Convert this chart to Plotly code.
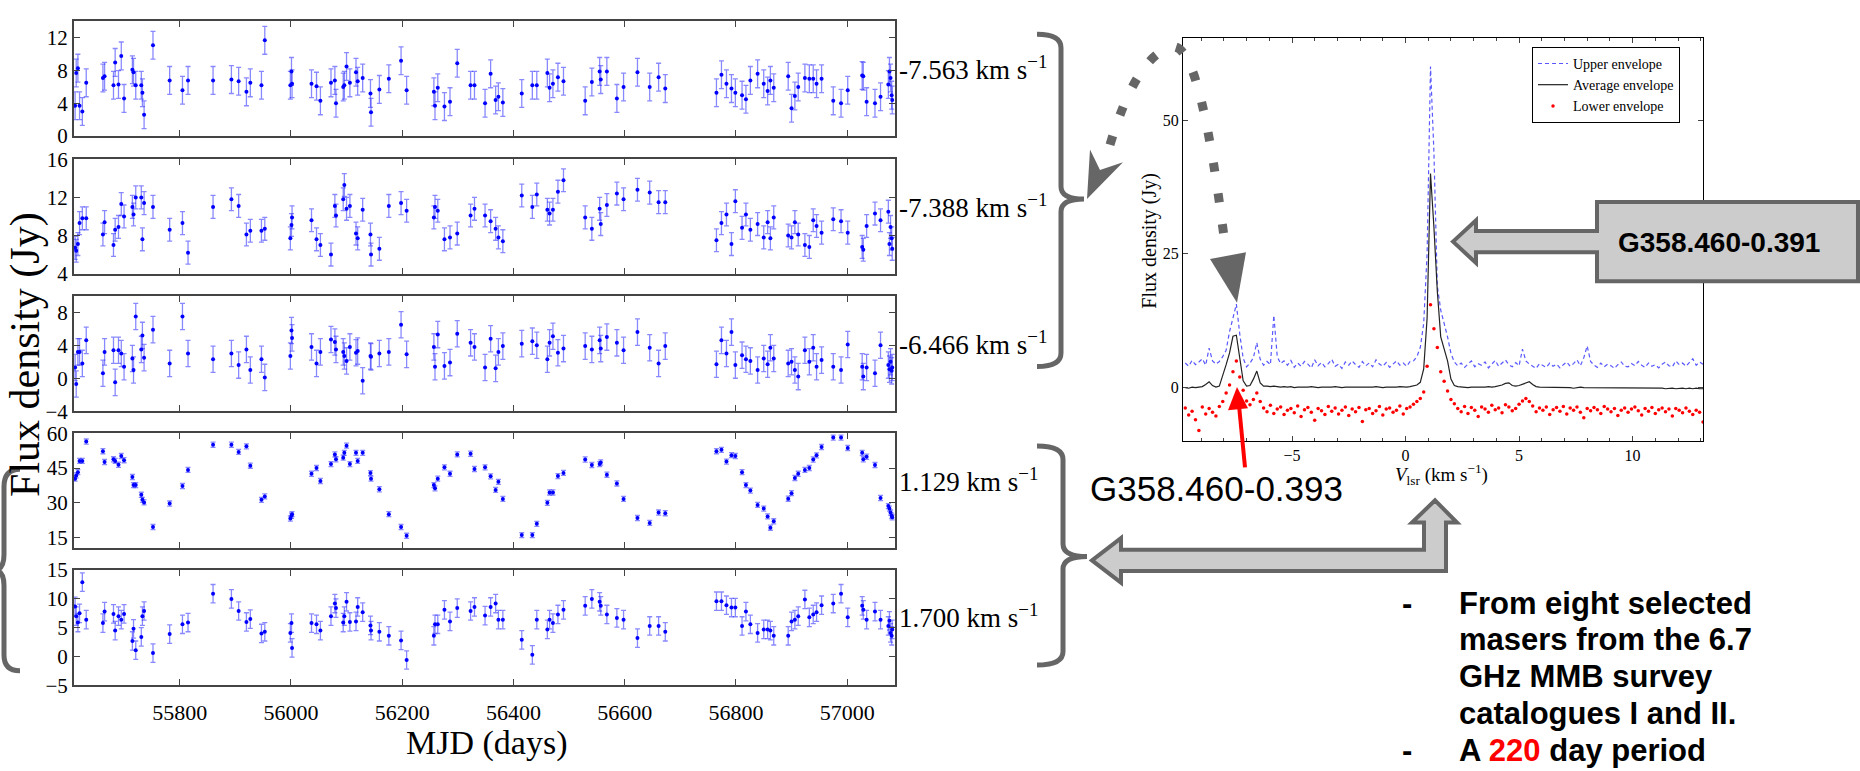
import plotly.graph_objects as go

W, H = 1860, 771

# ---------------- light curves (MJD epochs shared by all five velocity channels) ----------------
mjd = [
    55612, 55614, 55617, 55620, 55625, 55632, 55662, 55665, 55681, 55684,
    55690, 55695, 55700, 55715, 55717, 55721, 55731, 55733, 55736, 55752,
    55782, 55805, 55815, 55860, 55893, 55906, 55920, 55927, 55947, 55953,
    55999, 56001, 56002, 56037, 56046, 56053, 56072, 56079, 56081, 56094,
    56096, 56100, 56106, 56117, 56120, 56129, 56143, 56144, 56159, 56176,
    56198, 56208, 56257, 56259, 56264, 56276, 56286, 56299, 56323, 56330,
    56349, 56359, 56368, 56373, 56381, 56415, 56434, 56442, 56461, 56465,
    56471, 56480, 56490, 56529, 56541, 56555, 56557, 56568, 56586, 56598,
    56623, 56645, 56661, 56673, 56765, 56774, 56783, 56792, 56799, 56811,
    56818, 56826, 56839, 56850, 56857, 56862, 56868, 56894, 56900, 56906,
    56912, 56924, 56932, 56939, 56945, 56954, 56975, 56989, 57001, 57027,
    57029, 57035, 57050, 57060, 57074, 57076, 57078, 57080, 57081,
]

flux_m7563 = [
    3.7, 7.7, 8.3, 3.7, 3.0, 6.5, 7.1, 7.3, 6.2, 9.0,
    6.3, 9.8, 4.6, 8.1, 7.8, 6.2, 6.2, 5.3, 2.6, 11.1,
    6.8, 5.6, 6.8, 6.8, 6.9, 6.7, 5.4, 6.5, 6.2, 11.7,
    6.2, 7.9, 6.4, 6.4, 6.1, 4.3, 6.5, 6.8, 4.0, 6.0,
    6.2, 8.5, 6.5, 7.8, 6.7, 7.1, 5.2, 2.9, 5.7, 7.0,
    9.2, 5.6, 5.4, 3.7, 5.9, 3.6, 4.2, 8.9, 6.2, 6.2,
    4.0, 7.6, 4.4, 4.8, 4.1, 5.2, 6.2, 6.2, 7.7, 5.9,
    6.4, 7.2, 6.7, 4.3, 6.6, 7.9, 6.9, 7.9, 4.6, 6.0,
    7.8, 6.0, 7.2, 5.8, 5.3, 7.5, 6.4, 5.8, 5.3, 5.0,
    4.5, 6.8, 7.6, 6.4, 5.5, 6.8, 5.9, 7.3, 3.4, 4.9,
    6.0, 7.1, 7.0, 7.0, 6.4, 7.0, 4.3, 4.0, 5.6, 7.4,
    7.3, 4.2, 4.0, 4.8, 6.3, 7.9, 7.1, 5.0, 4.4,
]

flux_m7388 = [
    6.7, 6.4, 7.1, 9.3, 9.8, 9.8, 8.1, 9.4, 7.0, 8.6,
    8.9, 11.3, 10.0, 11.0, 10.2, 12.0, 12.0, 7.6, 11.4, 11.0,
    8.6, 9.3, 6.2, 11.0, 11.8, 11.1, 8.1, 8.5, 8.5, 8.7,
    7.7, 9.1, 9.9, 9.6, 7.6, 7.0, 6.0, 11.1, 10.1, 11.8,
    13.3, 10.8, 11.1, 8.2, 7.7, 10.7, 8.1, 6.0, 6.6, 11.1,
    11.4, 10.6, 9.9, 11.0, 10.6, 7.6, 7.8, 8.2, 10.1, 10.8,
    10.1, 9.5, 8.7, 7.8, 7.4, 12.2, 11.0, 12.3, 10.7, 10.3,
    10.7, 12.6, 13.8, 9.9, 8.7, 10.8, 9.2, 11.2, 12.4, 11.8,
    12.8, 12.5, 11.5, 11.5, 7.5, 9.3, 10.2, 7.1, 11.6, 8.8,
    10.2, 8.6, 9.2, 7.8, 9.4, 7.7, 9.9, 8.0, 7.8, 9.4,
    8.1, 7.0, 6.8, 9.6, 9.0, 8.3, 9.7, 9.5, 8.3, 6.8,
    6.5, 9.0, 10.3, 9.6, 10.5, 7.1, 8.9, 7.7, 6.6,
]

flux_m6466 = [
    1.3, -0.7, 3.2, 3.2, 1.8, 4.6, 0.6, 3.2, 3.4, -0.5,
    3.4, 3.0, 1.4, 2.4, 1.0, 7.5, 3.5, 5.2, 2.5, 5.9,
    1.8, 7.5, 3.0, 2.3, 3.0, 1.6, 3.5, 1.0, 2.3, 0.1,
    2.7, 5.8, 4.9, 3.8, 1.8, 3.2, 4.7, 4.4, 3.5, 3.2,
    2.7, 2.1, 3.8, 3.1, 3.3, -0.3, 2.7, 2.6, 3.0, 3.2,
    6.5, 2.9, 3.8, 1.4, 5.3, 1.5, 1.9, 5.4, 4.3, 3.8,
    1.3, 4.8, 1.2, 3.2, 3.9, 4.2, 4.5, 4.0, 2.3, 4.3,
    5.1, 3.1, 3.6, 3.9, 3.5, 4.6, 3.6, 5.0, 4.3, 3.4,
    5.6, 3.7, 1.8, 3.9, 1.7, 4.6, 3.0, 5.6, 1.6, 2.8,
    2.3, 2.1, 1.0, 2.4, 1.7, 3.7, 2.4, 1.8, 2.0, 1.0,
    0.2, 3.4, 2.0, 3.7, 1.4, 2.2, 1.4, 1.0, 4.1, 1.4,
    0.2, 1.3, 0.6, 4.0, 1.6, 1.1, 2.0, 0.9, 1.3,
]

flux_p1129 = [
    40.4, 41.8, 43.2, 48.1, 48.1, 56.5, 52.3, 47.6, 48.8, 48.1,
    46.4, 50.2, 48.4, 41.1, 37.6, 37.6, 33.4, 31.2, 30.1, 19.4,
    29.6, 37.2, 44.2, 55.1, 55.1, 52.0, 54.4, 46.0, 31.2, 32.7,
    23.1, 24.3, 25.0, 42.5, 45.0, 39.4, 46.7, 50.9, 48.8, 49.5,
    51.6, 54.7, 46.7, 51.6, 48.1, 51.6, 42.8, 40.4, 35.8, 25.0,
    19.4, 15.6, 37.6, 36.2, 40.4, 45.3, 42.5, 50.9, 51.2, 44.6,
    45.3, 41.4, 35.5, 39.0, 31.6, 15.9, 15.9, 20.8, 29.9, 34.4,
    34.4, 41.5, 42.9, 48.7, 46.3, 46.7, 47.4, 42.1, 38.3, 31.6,
    23.3, 21.2, 25.7, 25.4, 52.3, 52.9, 47.8, 50.6, 50.2, 43.2,
    37.6, 35.2, 29.0, 27.4, 24.0, 19.1, 21.9, 31.7, 34.1, 40.7,
    42.5, 44.2, 45.0, 48.7, 50.5, 54.1, 58.2, 58.2, 53.7, 51.6,
    48.8, 49.9, 46.3, 32.0, 28.5, 27.4, 25.7, 24.3, 23.6,
]

flux_p1700 = [
    8.7, 7.0, 5.9, 7.5, 12.9, 6.4, 5.8, 7.8, 7.4, 4.5,
    7.0, 6.4, 7.4, 2.7, 4.8, 1.1, 3.4, 7.0, 7.9, 0.6,
    3.9, 5.6, 5.9, 10.9, 10.0, 7.9, 6.0, 6.5, 4.0, 4.3,
    4.1, 5.8, 1.5, 5.8, 5.6, 4.5, 7.0, 9.2, 8.4, 5.9,
    7.0, 9.5, 6.0, 6.1, 8.6, 7.7, 5.4, 4.5, 4.3, 3.6,
    2.8, -0.6, 3.6, 5.6, 5.6, 8.1, 6.1, 8.4, 7.9, 8.6,
    7.1, 8.6, 9.2, 6.4, 6.4, 2.9, 0.3, 6.4, 4.7, 6.4,
    5.8, 7.3, 8.1, 8.8, 10.0, 9.5, 8.8, 7.3, 6.7, 6.4,
    3.2, 5.3, 5.3, 4.3, 9.6, 9.6, 8.9, 8.5, 8.5, 5.3,
    7.8, 5.6, 4.1, 4.7, 4.7, 4.5, 3.6, 3.6, 6.1, 6.4,
    7.0, 9.9, 6.8, 7.3, 7.7, 8.9, 9.2, 10.9, 6.8, 8.8,
    8.1, 6.4, 7.8, 6.4, 5.3, 6.2, 4.1, 3.6, 4.7,
]

flux_errors = [1.7, 1.2, 1.6, 1.1, 1.6]
channel_labels = ["-7.563", "-7.388", "-6.466", "1.129", "1.700"]
mjd_ticks = [55800, 56000, 56200, 56400, 56600, 56800, 57000]
panel_yticks = [[0, 4, 8, 12], [4, 8, 12, 16], [-4, 0, 4, 8], [15, 30, 45, 60], [-5, 0, 5, 10, 15]]
panel_yranges = [[0, 14.1], [4, 16], [-4, 10], [10.4, 60], [-5, 15]]

# ---------------- spectrum of G358.460-0.391 ----------------
velocity = [
    -9.70, -9.55, -9.40, -9.25, -9.10, -8.95, -8.80, -8.65, -8.50, -8.35,
    -8.20, -8.05, -7.90, -7.75, -7.60, -7.45, -7.30, -7.15, -7.00, -6.85,
    -6.70, -6.55, -6.40, -6.25, -6.10, -5.95, -5.80, -5.65, -5.50, -5.35,
    -5.20, -5.05, -4.90, -4.75, -4.60, -4.45, -4.30, -4.15, -4.00, -3.85,
    -3.70, -3.55, -3.40, -3.25, -3.10, -2.95, -2.80, -2.65, -2.50, -2.35,
    -2.20, -2.05, -1.90, -1.75, -1.60, -1.45, -1.30, -1.15, -1.00, -0.85,
    -0.70, -0.55, -0.40, -0.25, -0.10, 0.05, 0.20, 0.35, 0.50, 0.65,
    0.80, 0.95, 1.10, 1.25, 1.40, 1.55, 1.70, 1.85, 2.00, 2.15,
    2.30, 2.45, 2.60, 2.75, 2.90, 3.05, 3.20, 3.35, 3.50, 3.65,
    3.80, 3.95, 4.10, 4.25, 4.40, 4.55, 4.70, 4.85, 5.00, 5.15,
    5.30, 5.45, 5.60, 5.75, 5.90, 6.05, 6.20, 6.35, 6.50, 6.65,
    6.80, 6.95, 7.10, 7.25, 7.40, 7.55, 7.70, 7.85, 8.00, 8.15,
    8.30, 8.45, 8.60, 8.75, 8.90, 9.05, 9.20, 9.35, 9.50, 9.65,
    9.80, 9.95, 10.10, 10.25, 10.40, 10.55, 10.70, 10.85, 11.00, 11.15,
    11.30, 11.45, 11.60, 11.75, 11.90, 12.05, 12.20, 12.35, 12.50, 12.65,
    12.80, 12.95, 13.10,
]

upper_env = [
    4.6, 4.0, 5.1, 4.3, 4.8, 5.4, 4.2, 7.4, 5.0, 4.4,
    4.9, 5.8, 7.0, 10.5, 13.0, 15.6, 10.0, 5.5, 3.9, 4.6,
    5.6, 8.4, 5.3, 4.2, 4.9, 4.3, 13.5, 5.8, 4.5, 5.0,
    4.2, 5.1, 3.8, 4.6, 4.0, 4.9, 4.4, 3.7, 5.2, 4.1,
    4.7, 3.9, 4.5, 5.3, 4.0, 4.4, 3.6, 4.8, 4.2, 5.0,
    4.3, 3.8, 4.9, 4.1, 4.6, 3.9, 5.2, 4.4, 4.0, 4.7,
    3.8, 4.5, 5.0, 4.2, 4.6, 4.0, 4.9, 5.0, 5.8, 7.5,
    12.0, 25.0, 60.0, 44.0, 19.0, 14.5, 12.0, 9.5, 6.4, 4.8,
    4.1, 4.6, 3.8, 4.4, 5.0, 3.9, 4.5, 4.2, 4.8, 3.7,
    4.4, 5.1, 4.0, 4.6, 5.2, 4.3, 3.9, 4.7, 4.1, 7.2,
    5.0, 4.4, 4.0, 3.6, 4.5, 4.2, 3.8, 4.6, 4.0, 4.4,
    3.7, 4.3, 4.8, 4.0, 4.5, 5.2, 4.1, 5.6, 7.8, 4.9,
    4.2, 3.8, 4.6, 3.9, 4.4, 4.1, 3.6, 4.3, 4.8, 4.0,
    3.9, 4.5, 4.1, 4.9, 4.2, 3.8, 4.6, 4.0, 4.3, 3.7,
    4.4, 4.8, 4.1, 3.9, 5.0, 4.3, 4.6, 4.0, 4.7, 5.4,
    4.2, 4.8, 4.4,
]

average_env = [
    0.0, -0.1, 0.1, 0.0, 0.1, 0.2, 0.6, 1.1, 0.4, 0.1,
    0.3, 2.2, 4.3, 6.5, 9.6, 9.8, 5.5, 1.3, 0.3, 0.4,
    1.6, 3.1, 0.9, 0.3, 0.3, 0.2, 0.3, 0.2, 0.1, 0.2,
    0.1, 0.2, 0.0, 0.1, 0.1, 0.0, 0.1, 0.2, 0.1, 0.0,
    0.1, 0.1, 0.0, 0.1, 0.2, 0.1, 0.0, 0.1, 0.1, 0.0,
    0.1, 0.0, 0.1, 0.1, 0.0, 0.1, 0.2, 0.1, 0.0, 0.1,
    0.1, 0.0, 0.1, 0.2, 0.1, 0.1, 0.2, 0.3, 0.5, 1.0,
    3.5, 13.0, 40.0, 30.0, 18.0, 9.5, 7.0, 5.0, 1.6, 0.4,
    0.2, 0.1, 0.1, 0.0, 0.1, 0.1, 0.0, 0.1, 0.1, 0.2,
    0.1, 0.2, 0.3, 0.5, 0.8, 0.9, 0.4, 0.3, 0.4, 0.6,
    0.9, 1.1, 0.6, 0.2, 0.1, 0.1, 0.0, 0.1, 0.0, 0.1,
    0.0, 0.0, 0.1, 0.0, -0.1, 0.0, 0.1, 0.0, 0.0, -0.1,
    0.0, 0.0, -0.1, 0.0, 0.0, -0.1, 0.0, -0.1, 0.0, -0.1,
    -0.1, 0.0, -0.1, -0.1, 0.0, -0.1, -0.1, 0.0, -0.1, -0.1,
    -0.1, -0.2, -0.1, -0.1, -0.2, -0.1, -0.1, -0.2, -0.1, -0.2,
    -0.1, -0.2, -0.2,
]

lower_env = [
    -3.8, -5.1, -4.4, -6.0, -8.0, -3.6, -4.9, -3.9, -4.6, -5.3,
    -3.5, -2.6, -1.0, 0.5, 3.0, 5.0, 2.0, -0.5, -2.5, -3.2,
    -2.2, -1.0, -2.6, -3.8, -4.5, -3.3, -4.8, -4.0, -3.6, -5.0,
    -4.2, -3.9, -4.7, -3.4, -5.4, -4.1, -3.7, -4.6, -6.1, -3.9,
    -4.3, -5.0, -3.5, -4.4, -3.8, -4.9, -4.2, -3.6, -5.2, -4.0,
    -4.5, -3.7, -6.3, -4.1, -3.9, -4.8, -4.3, -3.5, -5.1, -4.0,
    -3.8, -4.6, -4.2, -3.4, -4.9, -3.9, -3.6, -3.1, -2.6, -2.0,
    -0.8, 4.0, 15.5, 11.0, 7.5, 3.0, 1.2, -0.6, -2.2, -3.0,
    -3.9, -4.5, -3.5, -4.8, -3.7, -4.2, -5.4, -3.6, -4.0, -4.6,
    -3.3, -4.1, -3.8, -4.7, -3.2, -3.6, -4.3, -3.9, -3.1, -2.5,
    -2.0, -2.6, -3.4, -4.5, -3.8, -4.2, -3.6, -5.0, -4.1, -3.7,
    -4.4, -3.5, -4.9, -3.8, -4.2, -3.6, -4.6, -5.6, -3.9, -4.3,
    -3.7, -4.1, -4.8, -3.5, -4.0, -4.5, -3.9, -5.2, -4.2, -3.8,
    -4.6, -4.0, -3.6, -4.3, -5.1, -3.9, -4.4, -3.7, -4.8, -4.1,
    -3.8, -4.5, -4.0, -5.3, -3.9, -4.2, -4.7, -3.8, -4.4, -5.0,
    -4.2, -4.6, -6.4,
]

# ---------------- page geometry (pixels) ----------------
def px(x):
    return x / W


def py(y):
    return 1 - y / H


def path(cmds):
    parts = []
    for cmd, pts in cmds:
        parts.append(cmd + " " + " ".join(f"{px(x):.5f},{py(y):.5f}" for x, y in pts))
    return " ".join(parts)


SERIF = "Liberation Serif"
SANS = "Liberation Sans"
GREY = "#666666"

LC_LEFT, LC_RIGHT = 74, 895
panel_px = [(9, 128), (152, 270), (293, 412), (435, 553), (576, 695)]

fig = go.Figure()
layout = dict(
    width=W, height=H, margin=dict(l=0, r=0, t=0, b=0),
    paper_bgcolor="white", plot_bgcolor="white",
    showlegend=True,
)

series = [flux_m7563, flux_m7388, flux_m6466, flux_p1129, flux_p1700]
for i, (vals, err) in enumerate(zip(series, flux_errors), start=1):
    key = "" if i == 1 else str(i)
    fig.add_trace(go.Scatter(
        x=mjd, y=vals, mode="markers", xaxis=f"x{key}", yaxis=f"y{key}",
        marker=dict(color="#0000ff", size=4),
        error_y=dict(type="constant", value=err, color="rgba(40,40,255,0.55)",
                     thickness=1.3, width=2.5),
        showlegend=False, hoverinfo="skip",
    ))
    top, bottom = panel_px[i - 1]
    layout[f"xaxis{key}"] = dict(
        domain=[px(LC_LEFT), px(LC_RIGHT)], range=[55610, 57086], anchor=f"y{key}",
        tickvals=mjd_ticks, tickformat="d", showticklabels=(i == 5),
        ticks="inside", ticklen=6, tickcolor="#444", mirror="allticks",
        ticklabelstandoff=6,
        showline=True, linecolor="#444", linewidth=2, showgrid=False, zeroline=False,
        tickfont=dict(family=SERIF, size=22, color="black"),
    )
    layout[f"yaxis{key}"] = dict(
        domain=[py(bottom), py(top)], range=panel_yranges[i - 1], anchor=f"x{key}",
        tickvals=panel_yticks[i - 1], ticks="inside", ticklen=6, tickcolor="#444",
        mirror="allticks", showline=True, linecolor="#444", linewidth=2,
        showgrid=False, zeroline=False,
        tickfont=dict(family=SERIF, size=21, color="black"),
    )

# spectrum panel
fig.add_trace(go.Scatter(
    x=velocity, y=upper_env, mode="lines", name="Upper envelope", xaxis="x6", yaxis="y6",
    line=dict(color="rgba(60,60,255,0.85)", width=1.2, dash="4px,3px"), hoverinfo="skip",
))
fig.add_trace(go.Scatter(
    x=velocity, y=average_env, mode="lines", name="Average envelope", xaxis="x6", yaxis="y6",
    line=dict(color="#222222", width=1.2), hoverinfo="skip",
))
fig.add_trace(go.Scatter(
    x=velocity, y=lower_env, mode="markers", name="Lower envelope", xaxis="x6", yaxis="y6",
    marker=dict(color="#ff0000", size=3.5), hoverinfo="skip",
))
layout["xaxis6"] = dict(
    domain=[px(1183), px(1703)], range=[-9.8, 13.1], anchor="y6",
    tickvals=[-5, 0, 5, 10], ticks="inside", ticklen=5, mirror="allticks",
    minor=dict(dtick=1, tick0=0, ticks="inside", ticklen=3),
    showline=True, linecolor="black", linewidth=1, showgrid=False, zeroline=False,
    tickfont=dict(family=SERIF, size=16, color="black"),
)
layout["yaxis6"] = dict(
    domain=[py(443), py(27)], range=[-10, 65.3], anchor="x6",
    tickvals=[0, 25, 50], ticks="inside", ticklen=5, mirror="allticks",
    showline=True, linecolor="black", linewidth=1, showgrid=False, zeroline=False,
    tickfont=dict(family=SERIF, size=16, color="black"),
)
layout["legend"] = dict(
    x=px(1532), y=py(36), xanchor="left", yanchor="top",
    bordercolor="black", borderwidth=1, bgcolor="white",
    font=dict(family=SERIF, size=14, color="black"), tracegroupgap=0,
)

# ---------------- text ----------------
ann = []


def text(x, y, s, size, family=SERIF, color="black", xanchor="center", angle=0):
    ann.append(dict(x=px(x), y=py(y), xref="paper", yref="paper", text=s, showarrow=False,
                    xanchor=xanchor, yanchor="middle", textangle=angle,
                    font=dict(family=family, size=size, color=color)))


label_y = [58, 200, 342, 483, 623]
for lab, yy in zip(channel_labels, label_y):
    text(897, yy, f"{lab} km s<sup>\u22121</sup>", 27, xanchor="left")

text(26, 354, "Flux density (Jy)", 42, angle=-90)
text(486, 755, "MJD (days)", 34)

text(1150, 236, "Flux density (Jy)", 20, angle=-90)
text(1441, 477, "<i>V</i><sub>lsr</sub> (km s<sup>\u22121</sup>)", 19)

text(1719, 238, "<b>G358.460-0.391</b>", 28, family=SANS)
text(1088, 492, "G358.460-0.393", 35, family=SANS, xanchor="left")

bullet_lines = [
    "<b>From eight selected</b>",
    "<b>masers from the 6.7</b>",
    "<b>GHz MMB survey</b>",
    "<b>catalogues I and II.</b>",
    "<b>A <span style='color:#ff0000'>220</span> day period</b>",
]
for s, yy in zip(bullet_lines, [610, 648, 686, 724, 762]):
    text(1457, yy, s, 31, family=SANS, xanchor="left")
for yy in [610, 762]:
    text(1400, yy, "<b>-</b>", 31, family=SANS, xanchor="left")

layout["annotations"] = ann

# ---------------- braces and arrows ----------------
shapes = []
brace_line = dict(color=GREY, width=5)
shapes.append(dict(type="path", xref="paper", yref="paper", line=brace_line, path=path([
    ("M", [(1037, 23)]), ("Q", [(1061, 23), (1061, 37)]), ("L", [(1061, 180)]),
    ("Q", [(1061, 193), (1084, 193)]), ("Q", [(1061, 193), (1061, 206)]),
    ("L", [(1061, 352)]), ("Q", [(1061, 366), (1037, 366)]),
])))
shapes.append(dict(type="path", xref="paper", yref="paper", line=brace_line, path=path([
    ("M", [(1037, 448)]), ("Q", [(1063, 448), (1063, 462)]), ("L", [(1063, 549)]),
    ("Q", [(1063, 562), (1087, 562)]), ("Q", [(1063, 562), (1063, 575)]),
    ("L", [(1063, 660)]), ("Q", [(1063, 674), (1037, 674)]),
])))
shapes.append(dict(type="path", xref="paper", yref="paper", line=brace_line, path=path([
    ("M", [(20, 472)]), ("Q", [(4, 472), (4, 490)]), ("L", [(4, 560)]),
    ("Q", [(4, 576), (-6, 576)]), ("Q", [(4, 576), (4, 592)]),
    ("L", [(4, 664)]), ("Q", [(4, 680), (20, 680)]),
])))

# dotted curved arrow from the brace to the weaker spectral feature
shapes.append(dict(type="path", xref="paper", yref="paper",
                   line=dict(color=GREY, width=9, dash="9px,22px"), path=path([
                       ("M", [(1110, 137)]), ("C", [(1128, 75), (1150, 38), (1175, 36)]),
                       ("C", [(1195, 40), (1210, 120), (1224, 232)]),
                   ])))
shapes.append(dict(type="path", xref="paper", yref="paper", fillcolor=GREY,
                   line=dict(width=0), path=path([
                       ("M", [(1087, 193)]), ("L", [(1090, 142)]), ("L", [(1100, 163)]),
                       ("L", [(1123, 155)]), ("Z", []),
                   ])))
shapes.append(dict(type="path", xref="paper", yref="paper", fillcolor=GREY,
                   line=dict(width=0), path=path([
                       ("M", [(1210, 255)]), ("L", [(1246, 248)]), ("L", [(1237, 300)]), ("Z", []),
                   ])))

# labelled block arrow pointing at the main peak
shapes.append(dict(type="path", xref="paper", yref="paper", fillcolor="#cccccc",
                   line=dict(color=GREY, width=4), path=path([
                       ("M", [(1453, 237)]), ("L", [(1476, 215)]), ("L", [(1476, 226)]),
                       ("L", [(1597, 226)]), ("L", [(1597, 196)]), ("L", [(1858, 196)]),
                       ("L", [(1858, 278)]), ("L", [(1597, 278)]), ("L", [(1597, 248)]),
                       ("L", [(1476, 248)]), ("L", [(1476, 259)]), ("Z", []),
                   ])))

# L-shaped block arrow between the lower brace and the spectrum
shapes.append(dict(type="path", xref="paper", yref="paper", fillcolor="#cccccc",
                   line=dict(color=GREY, width=4), path=path([
                       ("M", [(1092, 566)]), ("L", [(1121, 543)]), ("L", [(1121, 555)]),
                       ("L", [(1424, 555)]), ("L", [(1424, 527)]), ("L", [(1412, 527)]),
                       ("L", [(1435, 504)]), ("L", [(1457, 527)]), ("L", [(1446, 527)]),
                       ("L", [(1446, 577)]), ("L", [(1121, 577)]), ("L", [(1121, 589)]),
                       ("Z", []),
                   ])))

# red pointer to the -7.4 km/s feature
shapes.append(dict(type="line", xref="paper", yref="paper",
                   x0=px(1245), y0=py(470), x1=px(1239), y1=py(406),
                   line=dict(color="#ff0000", width=4)))
shapes.append(dict(type="path", xref="paper", yref="paper", fillcolor="#ff0000",
                   line=dict(width=0), path=path([
                       ("M", [(1237, 387)]), ("L", [(1228, 411)]), ("L", [(1248, 409)]), ("Z", []),
                   ])))

layout["shapes"] = shapes
fig.update_layout(**layout)
fig.write_html("out.html")
